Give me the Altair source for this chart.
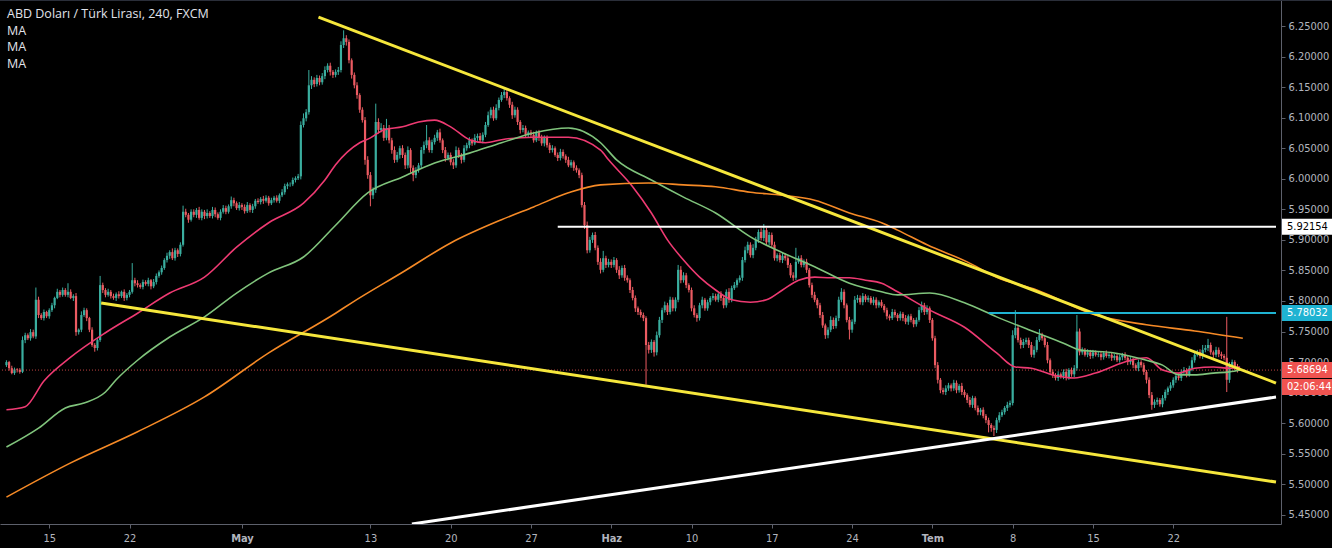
import altair as alt
import pandas as pd

# ---------------- data ----------------
chart_title = "ABD Doları / Türk Lirası, 240, FXCM"
indicator_labels = ["MA", "MA", "MA"]

first_bar_index = -16          # 4h bar index; 0 = first bar of 15 Apr
first_open = 5.695

closes = [
    5.700, 5.690, 5.682, 5.688,
    5.687, 5.684, 5.736, 5.744, 5.739, 5.749,
    5.742, 5.802, 5.777, 5.772, 5.782, 5.775,
    5.785, 5.793, 5.805, 5.815, 5.810, 5.818,
    5.810, 5.815, 5.805, 5.808, 5.749, 5.753,
    5.777, 5.785, 5.772, 5.753, 5.728, 5.723,
    5.736, 5.826, 5.818, 5.810, 5.815, 5.808,
    5.805, 5.811, 5.808, 5.815, 5.805, 5.810,
    5.815, 5.834, 5.829, 5.826, 5.823, 5.831,
    5.828, 5.834, 5.824, 5.831, 5.841, 5.847,
    5.854, 5.867, 5.874, 5.880, 5.870, 5.883,
    5.877, 5.892, 5.946, 5.941, 5.933, 5.946,
    5.941, 5.949, 5.936, 5.946, 5.939, 5.944,
    5.939, 5.949, 5.942, 5.936, 5.946, 5.952,
    5.946, 5.955, 5.965, 5.960, 5.952, 5.957,
    5.954, 5.947, 5.957, 5.949, 5.955, 5.964,
    5.962, 5.967, 5.964, 5.969, 5.960, 5.965,
    5.969, 5.964, 5.973, 5.978, 5.988, 5.991,
    5.991, 5.998, 6.001, 6.004, 6.088, 6.099,
    6.109, 6.153, 6.162, 6.155, 6.165, 6.158,
    6.168, 6.178, 6.185, 6.175, 6.170, 6.175,
    6.178, 6.219, 6.230, 6.224, 6.194, 6.170,
    6.153, 6.137, 6.113, 6.096, 6.031, 6.006,
    5.973, 5.982, 6.093, 6.080, 6.083, 6.067,
    6.083, 6.063, 6.047, 6.031, 6.039, 6.050,
    6.039, 6.022, 6.047, 6.018, 6.006, 6.014,
    6.022, 6.047, 6.055, 6.063, 6.047, 6.060,
    6.067, 6.076, 6.063, 6.047, 6.034, 6.039,
    6.027, 6.022, 6.047, 6.039, 6.031, 6.050,
    6.055, 6.063, 6.058, 6.067, 6.070, 6.063,
    6.072, 6.088, 6.104, 6.113, 6.099, 6.116,
    6.129, 6.137, 6.142, 6.132, 6.121, 6.104,
    6.113, 6.093, 6.080, 6.083, 6.072, 6.076,
    6.072, 6.063, 6.076, 6.067, 6.058, 6.068,
    6.055, 6.047, 6.050, 6.039, 6.034, 6.044,
    6.037, 6.031, 6.022, 6.027, 6.018, 6.014,
    6.006, 5.957, 5.924, 5.883, 5.900, 5.908,
    5.887, 5.864, 5.851, 5.870, 5.859, 5.864,
    5.859, 5.867, 5.851, 5.842, 5.854, 5.838,
    5.834, 5.818, 5.805, 5.788, 5.782, 5.777,
    5.772, 5.728, 5.720, 5.733, 5.716, 5.744,
    5.769, 5.785, 5.793, 5.782, 5.802, 5.788,
    5.802, 5.851, 5.834, 5.842, 5.826, 5.818,
    5.788, 5.777, 5.772, 5.793, 5.802, 5.788,
    5.798, 5.805, 5.808, 5.802, 5.811, 5.805,
    5.793, 5.815, 5.802, 5.821, 5.826, 5.834,
    5.838, 5.867, 5.883, 5.892, 5.875, 5.887,
    5.900, 5.913, 5.903, 5.916, 5.896, 5.908,
    5.892, 5.870, 5.875, 5.867, 5.874, 5.870,
    5.859, 5.842, 5.838, 5.864, 5.870, 5.859,
    5.864, 5.851, 5.826, 5.810, 5.802, 5.793,
    5.777, 5.760, 5.744, 5.753, 5.769, 5.759,
    5.772, 5.802, 5.815, 5.793, 5.769, 5.753,
    5.766, 5.802, 5.805, 5.798, 5.808, 5.802,
    5.805, 5.797, 5.802, 5.793, 5.798, 5.792,
    5.785, 5.775, 5.772, 5.782, 5.777, 5.772,
    5.779, 5.772, 5.766, 5.775, 5.769, 5.762,
    5.769, 5.785, 5.793, 5.782, 5.788, 5.769,
    5.739, 5.695, 5.671, 5.654, 5.651, 5.657,
    5.662, 5.657, 5.666, 5.654, 5.661, 5.651,
    5.646, 5.638, 5.630, 5.641, 5.625, 5.618,
    5.622, 5.612, 5.605, 5.597, 5.592, 5.589,
    5.605, 5.613, 5.618, 5.625, 5.630, 5.633,
    5.744, 5.756, 5.736, 5.728, 5.733, 5.736,
    5.728, 5.712, 5.720, 5.736, 5.744, 5.739,
    5.728, 5.703, 5.684, 5.679, 5.674, 5.680,
    5.677, 5.684, 5.674, 5.687, 5.680, 5.690,
    5.750, 5.716, 5.720, 5.712, 5.716, 5.710,
    5.716, 5.712, 5.713, 5.708, 5.715, 5.710,
    5.712, 5.707, 5.710, 5.703, 5.708, 5.712,
    5.707, 5.700, 5.703, 5.695, 5.690, 5.700,
    5.695, 5.684, 5.671, 5.646, 5.630, 5.635,
    5.638, 5.631, 5.641, 5.651, 5.657, 5.662,
    5.671, 5.677, 5.674, 5.684, 5.687, 5.680,
    5.690, 5.703, 5.712, 5.716, 5.710, 5.720,
    5.723, 5.728, 5.716, 5.712, 5.720, 5.713,
    5.710, 5.707, 5.671, 5.695, 5.700, 5.693,
    5.68694,
]

# wick lengths above / below the body, in thousandths of a lira
up_wick_milli = [
    3, 2, 4, 3,
    2, 3, 6, 4, 3, 5,
    4, 20, 5, 3, 4, 2,
    3, 4, 2, 5, 3, 4,
    3, 14, 4, 3, 5, 2,
    6, 4, 3, 2, 4, 3,
    3, 15, 4, 3, 5, 3,
    4, 3, 5, 2, 4, 3,
    3, 28, 4, 5, 3, 4,
    3, 4, 2, 5, 4, 3,
    4, 3, 5, 3, 6, 4,
    3, 4, 10, 5, 3, 4,
    4, 3, 5, 4, 3, 6,
    3, 5, 4, 3, 4, 5,
    4, 3, 6, 4, 3, 5,
    3, 4, 5, 3, 4, 3,
    4, 3, 5, 4, 3, 4,
    3, 4, 3, 5, 4, 3,
    3, 4, 3, 4, 6, 8,
    5, 25, 6, 4, 5, 4,
    5, 6, 4, 5, 3, 4,
    5, 6, 13, 5, 4, 3,
    4, 5, 3, 4, 5, 6,
    5, 4, 30, 6, 8, 5,
    15, 5, 4, 6, 5, 4,
    5, 4, 6, 3, 4, 5,
    4, 5, 6, 25, 5, 4,
    5, 4, 6, 3, 5, 4,
    4, 5, 6, 4, 3, 5,
    4, 5, 3, 6, 4, 5,
    4, 5, 6, 4, 5, 6,
    4, 5, 8, 4, 3, 5,
    5, 4, 3, 5, 4, 3,
    4, 5, 3, 4, 5, 3,
    3, 4, 5, 3, 4, 5,
    4, 3, 5, 4, 3, 4,
    3, 4, 5, 6, 5, 4,
    5, 4, 6, 12, 4, 5,
    4, 5, 3, 6, 4, 5,
    4, 3, 5, 4, 3, 4,
    4, 3, 5, 4, 3, 6,
    5, 4, 6, 4, 5, 4,
    4, 8, 6, 5, 4, 3,
    4, 5, 3, 4, 5, 3,
    4, 3, 5, 4, 3, 5,
    5, 4, 6, 4, 5, 3,
    4, 5, 6, 5, 4, 6,
    5, 4, 6, 10, 4, 5,
    4, 5, 3, 4, 5, 4,
    4, 3, 5, 23, 4, 5,
    4, 5, 3, 4, 5, 3,
    4, 5, 3, 4, 6, 4,
    4, 5, 6, 4, 3, 5,
    4, 6, 5, 4, 5, 3,
    4, 3, 5, 4, 3, 4,
    3, 4, 3, 5, 4, 3,
    4, 3, 5, 3, 4, 3,
    4, 5, 6, 4, 5, 3,
    3, 4, 5, 3, 4, 5,
    4, 3, 5, 4, 3, 5,
    4, 3, 5, 4, 3, 4,
    3, 4, 3, 4, 3, 4,
    4, 5, 4, 3, 5, 4,
    8, 29, 5, 4, 5, 4,
    4, 5, 6, 5, 10, 4,
    4, 5, 3, 4, 3, 5,
    3, 4, 5, 3, 4, 5,
    27, 5, 4, 3, 5, 4,
    4, 3, 5, 4, 3, 4,
    3, 4, 3, 5, 4, 3,
    4, 3, 5, 4, 3, 4,
    3, 4, 3, 4, 5, 4,
    4, 3, 5, 4, 3, 5,
    4, 5, 3, 4, 5, 3,
    4, 5, 6, 4, 5, 8,
    5, 10, 4, 3, 5, 4,
    4, 3, 67, 5, 4, 3,
    4,
]

down_wick_milli = [
    3, 4, 2, 3,
    4, 3, 2, 5, 3, 4,
    3, 4, 5, 3, 4, 3,
    4, 3, 5, 2, 4, 3,
    3, 4, 2, 5, 6, 4,
    4, 3, 5, 4, 3, 6,
    4, 3, 5, 4, 3, 4,
    3, 5, 4, 3, 5, 4,
    4, 3, 5, 4, 3, 4,
    3, 4, 5, 3, 4, 3,
    4, 3, 4, 5, 3, 4,
    5, 4, 3, 4, 5, 3,
    4, 5, 3, 4, 5, 4,
    3, 4, 5, 3, 4, 3,
    4, 3, 4, 5, 3, 4,
    5, 4, 3, 4, 5, 4,
    3, 4, 5, 3, 4, 3,
    4, 3, 4, 3, 4, 5,
    4, 3, 4, 3, 5, 4,
    5, 4, 6, 5, 4, 5,
    4, 5, 4, 6, 5, 4,
    5, 4, 5, 6, 5, 6,
    5, 6, 5, 4, 8, 6,
    18, 6, 5, 6, 4, 5,
    4, 5, 6, 5, 4, 6,
    5, 6, 5, 8, 10, 5,
    4, 5, 6, 5, 4, 5,
    4, 5, 4, 5, 6, 4,
    5, 6, 4, 5, 6, 4,
    4, 5, 4, 3, 5, 4,
    5, 4, 3, 5, 4, 3,
    4, 3, 5, 4, 5, 6,
    4, 5, 6, 4, 5, 4,
    5, 4, 3, 5, 4, 5,
    4, 5, 4, 3, 5, 4,
    4, 5, 3, 4, 5, 4,
    5, 4, 6, 5, 4, 5,
    4, 5, 6, 4, 5, 4,
    5, 4, 5, 6, 4, 5,
    4, 5, 4, 6, 5, 4,
    5, 65, 6, 5, 7, 5,
    4, 5, 4, 5, 4, 5,
    5, 4, 5, 4, 5, 4,
    5, 4, 6, 4, 5, 4,
    4, 5, 4, 3, 4, 5,
    5, 4, 5, 4, 3, 4,
    4, 5, 4, 5, 4, 5,
    4, 5, 4, 5, 4, 5,
    5, 4, 5, 4, 5, 4,
    5, 4, 5, 4, 3, 4,
    4, 5, 4, 5, 4, 5,
    5, 4, 6, 5, 4, 5,
    4, 5, 4, 5, 4, 16,
    5, 4, 5, 4, 5, 4,
    4, 3, 4, 5, 4, 3,
    4, 5, 4, 3, 4, 5,
    4, 5, 4, 5, 4, 5,
    4, 3, 4, 5, 4, 5,
    4, 5, 6, 5, 4, 5,
    4, 5, 4, 5, 4, 5,
    4, 5, 4, 5, 4, 5,
    5, 4, 5, 12, 6, 10,
    5, 4, 3, 4, 5, 4,
    4, 5, 4, 6, 5, 4,
    5, 4, 5, 4, 3, 4,
    4, 5, 4, 5, 4, 5,
    4, 5, 4, 3, 4, 5,
    4, 5, 4, 3, 4, 5,
    4, 3, 4, 5, 4, 3,
    4, 5, 4, 3, 4, 5,
    4, 5, 4, 5, 4, 5,
    4, 5, 6, 5, 8, 5,
    5, 4, 5, 4, 5, 4,
    4, 5, 4, 5, 4, 5,
    4, 5, 4, 3, 4, 5,
    4, 5, 4, 5, 4, 5,
    5, 4, 20, 5, 4, 6,
    4,
]

# x-axis date labels (bar index of the first bar of the day)
date_tick_index = [0, 30, 72, 120, 150, 180, 210, 240, 270, 300, 330, 360, 390, 420]
date_tick_text = ["15", "22", "May", "13", "20", "27", "Haz", "10", "17", "24", "Tem", "8", "15", "22"]
month_tick_index = [72, 210, 330]

price_ticks = [5.45, 5.50, 5.55, 5.60, 5.65, 5.70, 5.75, 5.80, 5.85, 5.90,
               5.95, 6.00, 6.05, 6.10, 6.15, 6.20, 6.25]

# moving averages
ma_fast_index = [-16, -9, -2, 8, 21, 33, 45, 58, 70, 82, 95, 103, 107, 116, 120, 125, 132, 138,
                 144, 150, 157, 163, 169, 181, 194, 206, 209, 218, 225, 231, 237, 243, 249, 255,
                 262, 268, 274, 280, 286, 292, 299, 305, 311, 317, 329, 342, 354, 361, 367, 375,
                 383, 391, 404, 410, 416, 422, 428, 435, 441, 445]
ma_fast_value = [5.622, 5.627, 5.669, 5.708, 5.748, 5.780, 5.813, 5.839, 5.888, 5.928,
                 5.960, 5.998, 6.023, 6.059, 6.067, 6.080, 6.085, 6.093, 6.096, 6.085,
                 6.064, 6.059, 6.064, 6.068, 6.068, 6.047, 6.031, 5.987, 5.944, 5.900,
                 5.867, 5.839, 5.818, 5.802, 5.798, 5.802, 5.818, 5.834, 5.839, 5.838,
                 5.838, 5.834, 5.829, 5.815, 5.785, 5.757, 5.715, 5.692, 5.690, 5.679,
                 5.674, 5.682, 5.703, 5.707, 5.687, 5.682, 5.690, 5.692, 5.690, 5.692]

ma_mid_index = [-16, -4, 6, 13, 21, 25, 33, 45, 58, 70, 82, 95, 107, 119, 132, 144, 157, 169,
                181, 194, 206, 212, 225, 237, 249, 262, 274, 286, 299, 311, 317, 329, 342, 354,
                366, 379, 385, 398, 410, 416, 422, 428, 435, 441, 445]
ma_mid_value = [5.561, 5.592, 5.625, 5.633, 5.651, 5.671, 5.703, 5.741, 5.774, 5.813,
                5.846, 5.872, 5.924, 5.977, 6.003, 6.026, 6.042, 6.059, 6.075, 6.083,
                6.059, 6.031, 5.998, 5.970, 5.944, 5.905, 5.879, 5.856, 5.829, 5.815,
                5.810, 5.813, 5.797, 5.774, 5.753, 5.731, 5.720, 5.715, 5.703, 5.695,
                5.679, 5.679, 5.682, 5.684, 5.687]

ma_slow_index = [-16, 8, 33, 58, 82, 107, 113, 132, 150, 169, 181, 194, 206, 224, 237, 249,
                 262, 274, 286, 299, 311, 317, 328, 343, 354, 369, 391, 410, 428, 446]
ma_slow_value = [5.479, 5.535, 5.586, 5.643, 5.715, 5.780, 5.797, 5.847, 5.895, 5.933,
                 5.954, 5.977, 5.990, 5.993, 5.990, 5.987, 5.978, 5.973, 5.965, 5.944,
                 5.928, 5.916, 5.892, 5.864, 5.839, 5.818, 5.777, 5.761, 5.751, 5.739]

# drawn trend lines (start / end in bar index and price)
trend_name = ["top", "bottom", "rising"]
trend_start_index = [100.6, 19.4, 135.5]
trend_start_price = [6.2647, 5.7966, 5.4350]
trend_end_index = [458.4, 458.4, 458.4]
trend_end_price = [5.6657, 5.5037, 5.6428]

# horizontal levels
level_price = [5.92154, 5.78032]
level_start_index = [190, 351]
level_label = ["5.92154", "5.78032"]

last_price = 5.68694
last_price_label = "5.68694"
countdown_label = "02:06:44"

# ---------------- styling ----------------
BG = "#000000"
UP = "#3aae9f"
DOWN = "#ec5b62"
FAST = "#ee3a72"
MID = "#80c47c"
SLOW = "#f68a26"
YELLOW = "#f6e73c"
WHITE = "#ffffff"
CYAN = "#1fb3d2"
RED_TAG = "#ef5350"
AXIS_TXT = "#b2b5be"
AXIS_LINE = "#5d606b"
FONT = "Liberation Sans Narrow, DejaVu Sans Condensed, Arial, sans-serif"
HEAD_FONT = "Open Sans, Liberation Sans, Arial, sans-serif"

W, H = 1281, 524
X_DOMAIN = [-16.54, 458.4]
Y_DOMAIN = [5.435, 6.2926]
xs = alt.Scale(domain=X_DOMAIN, nice=False, zero=False)
ys = alt.Scale(domain=Y_DOMAIN, nice=False, zero=False)

# ---------------- tables ----------------
rows = []
prev = first_open
for k, (c, uw, dw) in enumerate(zip(closes, up_wick_milli, down_wick_milli)):
    o = prev
    rows.append({
        "i": first_bar_index + k,
        "open": o,
        "close": c,
        "high": max(o, c) + uw / 1000.0,
        "low": min(o, c) - dw / 1000.0,
        "col": UP if c >= o else DOWN,
    })
    prev = c
candles = pd.DataFrame(rows)

ma_df = pd.concat([
    pd.DataFrame({"i": ma_fast_index, "v": ma_fast_value, "ma": "fast", "col": FAST}),
    pd.DataFrame({"i": ma_mid_index, "v": ma_mid_value, "ma": "mid", "col": MID}),
    pd.DataFrame({"i": ma_slow_index, "v": ma_slow_value, "ma": "slow", "col": SLOW}),
], ignore_index=True)

trend_colors = {"top": YELLOW, "bottom": YELLOW, "rising": WHITE}
trend_rows = []
for n, i0, p0, i1, p1 in zip(trend_name, trend_start_index, trend_start_price,
                             trend_end_index, trend_end_price):
    trend_rows.append({"name": n, "i": i0, "p": p0, "o": 0, "col": trend_colors[n]})
    trend_rows.append({"name": n, "i": i1, "p": p1, "o": 1, "col": trend_colors[n]})
trend_df = pd.DataFrame(trend_rows)

level_df = pd.DataFrame({
    "p": level_price,
    "i0": level_start_index,
    "i1": [X_DOMAIN[1]] * len(level_price),
    "col": [WHITE, CYAN],
})

tag_df = pd.DataFrame({
    "p": level_price + [last_price],
    "label": level_label + [last_price_label],
    "fill": [WHITE, CYAN, RED_TAG],
    "ink": ["#000000", WHITE, WHITE],
})
timer_df = pd.DataFrame({"p": [last_price], "label": [countdown_label]})

# ---------------- axes ----------------
label_expr = " : ".join(
    f"datum.value == {v} ? '{t}'" for v, t in zip(date_tick_index, date_tick_text)
) + " : ''"
month_test = " || ".join(f"datum.value == {v}" for v in month_tick_index)

x_axis = alt.Axis(
    values=date_tick_index, labelExpr=label_expr, title=None, grid=False,
    labelColor=AXIS_TXT, labelFontSize=11, labelFont=FONT, labelPadding=4,
    tickColor=AXIS_LINE, tickSize=4, domainColor=AXIS_LINE, domainWidth=1,
    labelOverlap=False, labelFlush=False,
    labelFontWeight={"condition": {"test": month_test, "value": "bold"}, "value": "normal"},
)
y_axis = alt.Axis(
    orient="right", values=price_ticks, format=".5f", title=None, grid=False,
    labelColor=AXIS_TXT, labelFontSize=11, labelFont=FONT, labelPadding=3,
    tickColor=AXIS_LINE, tickSize=4, domainColor=AXIS_LINE, domainWidth=1,
    labelOverlap=False, labelFlush=False,
)


def X(field):
    return alt.X(field, scale=xs, axis=x_axis)


def Y(field):
    return alt.Y(field, scale=ys, axis=y_axis)


# ---------------- layers ----------------
wicks = alt.Chart(candles).mark_rule(strokeWidth=1).encode(
    x=X("i:Q"), y=Y("low:Q"), y2="high:Q",
    color=alt.Color("col:N", scale=None),
)
bodies = alt.Chart(candles).mark_bar(size=2.2).encode(
    x=X("i:Q"), y=Y("open:Q"), y2="close:Q",
    color=alt.Color("col:N", scale=None),
)

last_line = alt.Chart(timer_df).mark_rule(
    color=RED_TAG, strokeWidth=1, strokeDash=[1, 2], opacity=0.8
).encode(y=Y("p:Q"))

ma_lines = alt.Chart(ma_df).mark_line(strokeWidth=1.6, interpolate="monotone", clip=True).encode(
    x=X("i:Q"), y=Y("v:Q"),
    color=alt.Color("col:N", scale=None),
    detail="ma:N",
)

trends = alt.Chart(trend_df).mark_line(strokeWidth=3, clip=True).encode(
    x=X("i:Q"), y=Y("p:Q"),
    order="o:Q",
    detail="name:N",
    color=alt.Color("col:N", scale=None),
)

levels = alt.Chart(level_df).mark_rule(strokeWidth=2).encode(
    x=X("i0:Q"), x2="i1:Q", y=Y("p:Q"),
    color=alt.Color("col:N", scale=None),
)

tags = alt.Chart(tag_df).mark_rect(yOffset=-8, y2Offset=8).encode(
    x=alt.value(W + 1), x2=alt.value(W + 51),
    y=Y("p:Q"), y2="p:Q",
    color=alt.Color("fill:N", scale=None),
)
tag_text = alt.Chart(tag_df).mark_text(align="left", baseline="middle", fontSize=11, font=FONT).encode(
    x=alt.value(W + 6),
    y=Y("p:Q"),
    text="label:N",
    color=alt.Color("ink:N", scale=None),
)
timer_box = alt.Chart(timer_df).mark_rect(yOffset=9, y2Offset=25, color=RED_TAG).encode(
    x=alt.value(W + 1), x2=alt.value(W + 51),
    y=Y("p:Q"), y2="p:Q",
)
timer_text = alt.Chart(timer_df).mark_text(align="left", baseline="middle", fontSize=11,
                                           font=FONT, dy=17, color=WHITE).encode(
    x=alt.value(W + 6),
    y=Y("p:Q"),
    text="label:N",
)

top_border = alt.Chart(timer_df).mark_rule(color="#2a2e39", strokeWidth=1).encode(
    x=alt.value(0), x2=alt.value(W + 51), y=alt.value(0.5)
)

header_layers = []
header_texts = [chart_title] + indicator_labels
for k, t in enumerate(header_texts):
    header_layers.append(
        alt.Chart(pd.DataFrame({"t": [t]})).mark_text(
            align="left", baseline="middle", fontSize=12.5, font=HEAD_FONT,
            color="#e0e3eb", fontWeight="normal"
        ).encode(x=alt.value(7), y=alt.value(14 + 16.5 * k), text="t:N")
    )

chart = alt.layer(
    wicks, bodies, last_line, ma_lines, trends, levels,
    tags, tag_text, timer_box, timer_text, top_border, *header_layers,
).properties(
    width=W, height=H,
    background=BG,
    padding={"left": 0, "top": 0, "right": 51, "bottom": 24},
    autosize=alt.AutoSizeParams(type="none"),
).configure_view(stroke=None)

chart.save("out.html", embed_options={"renderer": "svg", "actions": False})
